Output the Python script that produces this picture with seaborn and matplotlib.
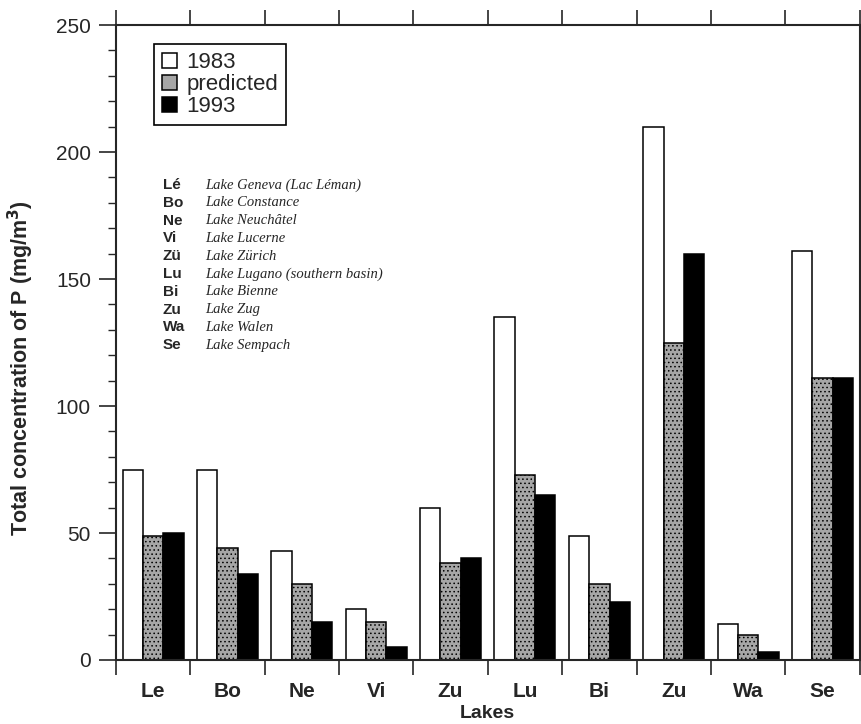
import pandas as pd
import seaborn as sns
import matplotlib.pyplot as plt
from matplotlib.ticker import FixedLocator, MultipleLocator

# Total phosphorus in Swiss lakes
lakes = ['Geneva', 'Constance', 'Neuchatel', 'Lucerne', 'Zurich',
         'Lugano', 'Bienne', 'Zug', 'Walen', 'Sempach']
tick_labels = ['Le', 'Bo', 'Ne', 'Vi', 'Zu', 'Lu', 'Bi', 'Zu', 'Wa', 'Se']
p_1983 = [75, 75, 43, 20, 60, 135, 49, 210, 14, 161]
p_predicted = [49, 44, 30, 15, 38, 73, 30, 125, 10, 111]
p_1993 = [50, 34, 15, 5, 40, 65, 23, 160, 3, 111]

key_abbr = ['Lé', 'Bo', 'Ne', 'Vi', 'Zü', 'Lu', 'Bi', 'Zu', 'Wa', 'Se']
key_names = ['Lake Geneva (Lac Léman)', 'Lake Constance', 'Lake Neuchâtel',
             'Lake Lucerne', 'Lake Zürich', 'Lake Lugano (southern basin)',
             'Lake Bienne', 'Lake Zug', 'Lake Walen', 'Lake Sempach']

df = pd.DataFrame({
    'lake': lakes * 3,
    'P': p_1983 + p_predicted + p_1993,
    'series': ['1983'] * 10 + ['predicted'] * 10 + ['1993'] * 10,
})

sns.set_style('ticks')
plt.rcParams['font.family'] = ['Liberation Sans', 'DejaVu Sans']
plt.rcParams['hatch.color'] = '#555555'
plt.rcParams['hatch.linewidth'] = 0.6

fig = plt.figure(figsize=(8.61, 7.24), dpi=100)
ax = fig.add_axes([0.1347, 0.0884, 0.8637, 0.877])

pal = {'1983': 'white', 'predicted': '#a6a6a6', '1993': 'black'}
sns.barplot(data=df, x='lake', y='P', hue='series', order=lakes,
            hue_order=['1983', 'predicted', '1993'], palette=pal,
            width=0.82, edgecolor='black', linewidth=1.1, ax=ax)

for bar in ax.containers[1]:
    bar.set_hatch('....')

ax.set_ylim(0, 250)
ax.set_xlim(-0.5, 9.5)
ax.yaxis.set_major_locator(MultipleLocator(50))
ax.yaxis.set_minor_locator(MultipleLocator(10))
ax.set_xticks(range(10))
ax.set_xticklabels(tick_labels, fontsize=15, fontweight='bold')
ax.xaxis.set_minor_locator(FixedLocator([i + 0.5 for i in range(-1, 10)]))
ax.tick_params(axis='x', which='major', length=0, pad=16)
ax.tick_params(axis='x', which='minor', length=11, width=1.2,
               top=True, bottom=True, direction='out')
ax.tick_params(axis='y', which='major', labelsize=15, length=12, width=1.2,
               right=True, pad=6)
ax.tick_params(axis='y', which='minor', length=6, width=1, right=True)

for s in ax.spines.values():
    s.set_visible(True)
    s.set_linewidth(1.5)

ax.set_xlabel('Lakes', fontsize=14, fontweight='bold', labelpad=3)
ax.set_ylabel('Total concentration of P (mg/m$^\\mathbf{3}$)', fontsize=15.5,
              fontweight='bold')
ax.yaxis.set_label_coords(-0.108, 0.46)

leg = ax.legend(loc='upper left', bbox_to_anchor=(0.036, 0.987),
                fontsize=16, handlelength=0.7, handleheight=0.7,
                handletextpad=0.4, labelspacing=0.05, borderpad=0.35,
                fancybox=False, edgecolor='black', framealpha=1)
leg.get_frame().set_linewidth(1.2)

for i, (abbr, name) in enumerate(zip(key_abbr, key_names)):
    y = 0.748 - i * 0.028
    ax.text(0.063, y, abbr, transform=ax.transAxes, fontsize=11,
            fontweight='bold', va='center')
    ax.text(0.12, y, name, transform=ax.transAxes, fontsize=10.5,
            style='italic', family='Liberation Serif', va='center')

fig.savefig('out.png', dpi=100)
